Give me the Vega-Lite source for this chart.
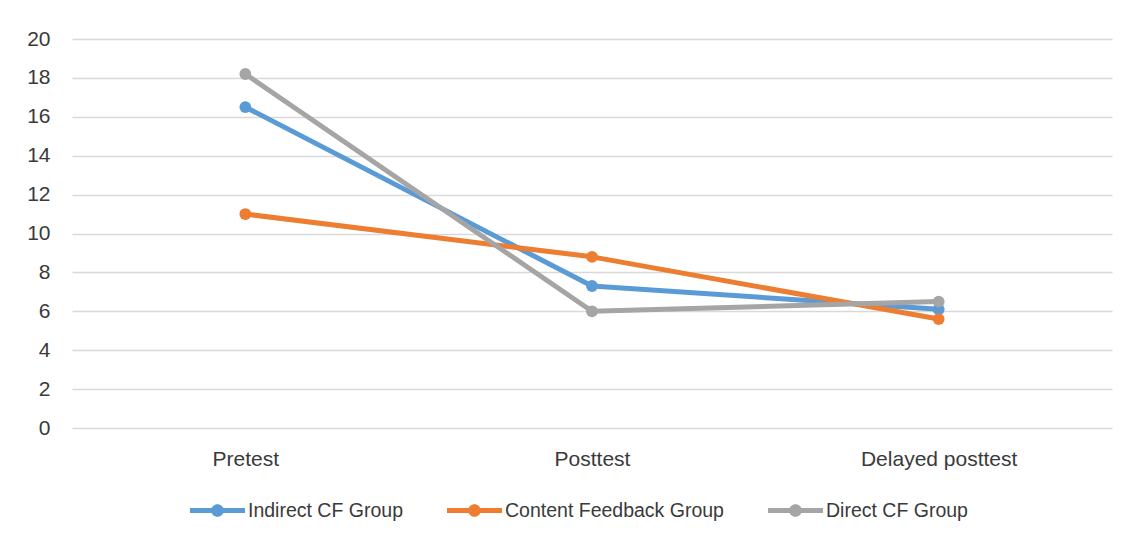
{
  "$schema": "https://vega.github.io/schema/vega-lite/v6.json",
  "autosize": {"type": "none"},
  "width": 1040,
  "height": 389,
  "padding": {"left": 72, "top": 39, "right": 19, "bottom": 115},
  "background": "white",
  "data": {
    "values": [
      {"test": "Pretest", "group": "Indirect CF Group", "score": 16.5},
      {"test": "Posttest", "group": "Indirect CF Group", "score": 7.3},
      {"test": "Delayed posttest", "group": "Indirect CF Group", "score": 6.1},
      {"test": "Pretest", "group": "Content Feedback Group", "score": 11.0},
      {"test": "Posttest", "group": "Content Feedback Group", "score": 8.8},
      {"test": "Delayed posttest", "group": "Content Feedback Group", "score": 5.6},
      {"test": "Pretest", "group": "Direct CF Group", "score": 18.2},
      {"test": "Posttest", "group": "Direct CF Group", "score": 6.0},
      {"test": "Delayed posttest", "group": "Direct CF Group", "score": 6.5}
    ]
  },
  "encoding": {
    "x": {
      "field": "test",
      "type": "nominal",
      "sort": ["Pretest", "Posttest", "Delayed posttest"],
      "scale": {"type": "point", "padding": 0.5},
      "axis": {
        "title": null,
        "labelAngle": 0,
        "ticks": false,
        "domain": false,
        "grid": false,
        "labelPadding": 20,
        "labelFont": "Liberation Sans",
        "labelFontSize": 21,
        "labelColor": "#3a3a3a"
      }
    },
    "y": {
      "field": "score",
      "type": "quantitative",
      "scale": {"domain": [0, 20], "nice": false},
      "axis": {
        "title": null,
        "values": [0, 2, 4, 6, 8, 10, 12, 14, 16, 18, 20],
        "ticks": false,
        "domain": false,
        "grid": true,
        "gridColor": "#d9d9d9",
        "gridWidth": 1.5,
        "labelPadding": 22,
        "labelFont": "Liberation Sans",
        "labelFontSize": 21,
        "labelColor": "#3a3a3a"
      }
    },
    "color": {
      "field": "group",
      "type": "nominal",
      "scale": {
        "domain": ["Indirect CF Group", "Content Feedback Group", "Direct CF Group"],
        "range": ["#5B9BD5", "#ED7D31", "#A5A5A5"]
      },
      "legend": {
        "title": null,
        "orient": "none",
        "direction": "horizontal",
        "legendX": 118,
        "legendY": 444,
        "padding": 0,
        "symbolType": "M-1,-0.09L1,-0.09L1,0.09L-1,0.09Z M0.23,0A0.23,0.23,0,1,1,-0.23,0A0.23,0.23,0,1,1,0.23,0Z",
        "symbolSize": 3025,
        "symbolStrokeWidth": 0,
        "symbolOpacity": 1,
        "labelOffset": 3,
        "labelLimit": 500,
        "columnPadding": 44,
        "labelFont": "Liberation Sans",
        "labelFontSize": 19.5,
        "labelColor": "#3a3a3a"
      }
    }
  },
  "layer": [
    {
      "mark": {"type": "line", "strokeWidth": 5, "strokeCap": "round", "strokeJoin": "round"}
    },
    {
      "mark": {"type": "point", "filled": true, "size": 140, "opacity": 1}
    }
  ],
  "config": {
    "view": {"stroke": null}
  }
}
